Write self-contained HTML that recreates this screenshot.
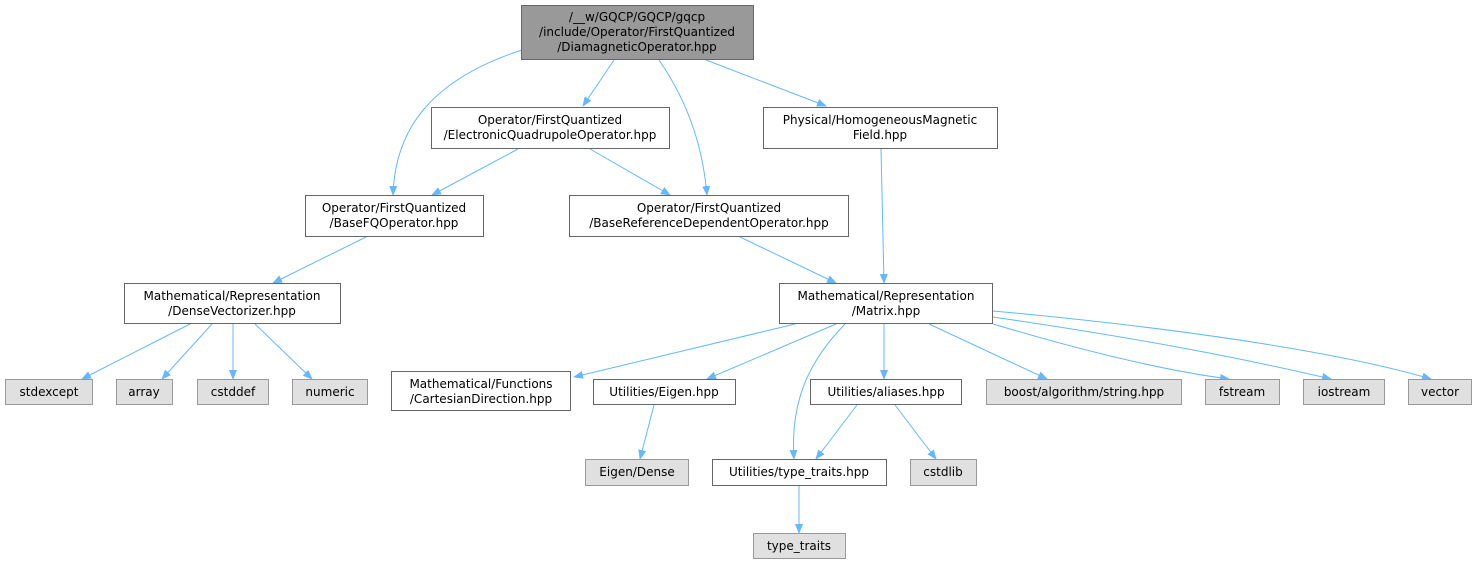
<!DOCTYPE html>
<html><head><meta charset="utf-8"><style>
html,body{margin:0;padding:0;background:#fff;width:1476px;height:564px;overflow:hidden}
svg text{font-family:"DejaVu Sans","Liberation Sans",sans-serif;font-size:12px;fill:#000}
</style></head><body>
<svg width="1476" height="564" viewBox="0 0 1476 564" xmlns="http://www.w3.org/2000/svg">
<defs><marker id="a" markerWidth="10" markerHeight="10" refX="9" refY="5" orient="auto" markerUnits="userSpaceOnUse"><path d="M0,1 L10,5 L0,9 z" fill="#63b8ff"/></marker></defs>
<g fill="none" stroke="#63b8ff" stroke-width="1" marker-end="url(#a)">
<path d="M522,50 C430,80 395,130 393,195"/>
<path d="M614,60 L583,106"/>
<path d="M659,60 C690,105 703,150 707,195"/>
<path d="M706,60 L826,106"/>
<path d="M518,149 L432,195"/>
<path d="M590,149 L670,195"/>
<path d="M881,149 L884,283"/>
<path d="M366,237 L273,283"/>
<path d="M740,237 L836,283"/>
<path d="M190,324 L82,379"/>
<path d="M212,324 L162,379"/>
<path d="M233,324 L233,379"/>
<path d="M255,324 L312,379"/>
<path d="M795,324 L574,377"/>
<path d="M836,324 L707,379"/>
<path d="M845,324 C810,360 790,400 794,459"/>
<path d="M884,324 L884,379"/>
<path d="M929,324 L1047,379"/>
<path d="M993,324 C1080,350 1160,370 1229,379"/>
<path d="M993,317 C1150,340 1250,360 1331,379"/>
<path d="M993,311 C1200,330 1350,355 1431,379"/>
<path d="M654,405 L640,459"/>
<path d="M857,405 L816,459"/>
<path d="M895,405 L936,459"/>
<path d="M799,486 L799,533"/>
</g>
<g stroke="#666" stroke-width="1">
<rect x="521.5" y="5.5" width="232" height="54" fill="#999"/>
<rect x="431.5" y="107.5" width="238" height="41" fill="#fff"/>
<rect x="763.5" y="107.5" width="234" height="41" fill="#fff"/>
<rect x="305.5" y="195.5" width="178" height="41" fill="#fff"/>
<rect x="569.5" y="195.5" width="279" height="41" fill="#fff"/>
<rect x="124.5" y="283.5" width="216" height="40" fill="#fff"/>
<rect x="779.5" y="283.5" width="213" height="40" fill="#fff"/>
<rect x="391.5" y="371.5" width="179" height="39" fill="#fff"/>
<rect x="593.5" y="379.5" width="142" height="25" fill="#fff"/>
<rect x="810.5" y="379.5" width="151" height="25" fill="#fff"/>
<rect x="712.5" y="459.5" width="174" height="26" fill="#fff"/>
</g>
<g stroke="#999" stroke-width="1" fill="#e0e0e0">
<rect x="5.5" y="379.5" width="87" height="25"/>
<rect x="116.5" y="379.5" width="56" height="25"/>
<rect x="197.5" y="379.5" width="71" height="25"/>
<rect x="292.5" y="379.5" width="75" height="25"/>
<rect x="986.5" y="379.5" width="195" height="25"/>
<rect x="1205.5" y="379.5" width="74" height="25"/>
<rect x="1303.5" y="379.5" width="81" height="25"/>
<rect x="1408.5" y="379.5" width="63" height="25"/>
<rect x="585.5" y="459.5" width="103" height="26"/>
<rect x="910.5" y="459.5" width="66" height="26"/>
<rect x="753.5" y="533.5" width="92" height="25"/>
</g>
<g text-anchor="middle">
<text x="637" y="21">/__w/GQCP/GQCP/gqcp</text>
<text x="637" y="36">/include/Operator/FirstQuantized</text>
<text x="637" y="51">/DiamagneticOperator.hpp</text>
<text x="550" y="124">Operator/FirstQuantized</text>
<text x="550" y="139">/ElectronicQuadrupoleOperator.hpp</text>
<text x="880" y="124">Physical/HomogeneousMagnetic</text>
<text x="880" y="139">Field.hpp</text>
<text x="394" y="212">Operator/FirstQuantized</text>
<text x="394" y="227">/BaseFQOperator.hpp</text>
<text x="709" y="212">Operator/FirstQuantized</text>
<text x="709" y="227">/BaseReferenceDependentOperator.hpp</text>
<text x="232" y="300">Mathematical/Representation</text>
<text x="232" y="315">/DenseVectorizer.hpp</text>
<text x="886" y="300">Mathematical/Representation</text>
<text x="886" y="315">/Matrix.hpp</text>
<text x="49" y="396">stdexcept</text>
<text x="144" y="396">array</text>
<text x="233" y="396">cstddef</text>
<text x="330" y="396">numeric</text>
<text x="481" y="388">Mathematical/Functions</text>
<text x="481" y="403">/CartesianDirection.hpp</text>
<text x="664" y="396">Utilities/Eigen.hpp</text>
<text x="886" y="396">Utilities/aliases.hpp</text>
<text x="1084" y="396">boost/algorithm/string.hpp</text>
<text x="1242" y="396">fstream</text>
<text x="1344" y="396">iostream</text>
<text x="1440" y="396">vector</text>
<text x="637" y="476">Eigen/Dense</text>
<text x="799" y="476">Utilities/type_traits.hpp</text>
<text x="943" y="476">cstdlib</text>
<text x="799" y="550">type_traits</text>
</g>
</svg>
</body></html>
